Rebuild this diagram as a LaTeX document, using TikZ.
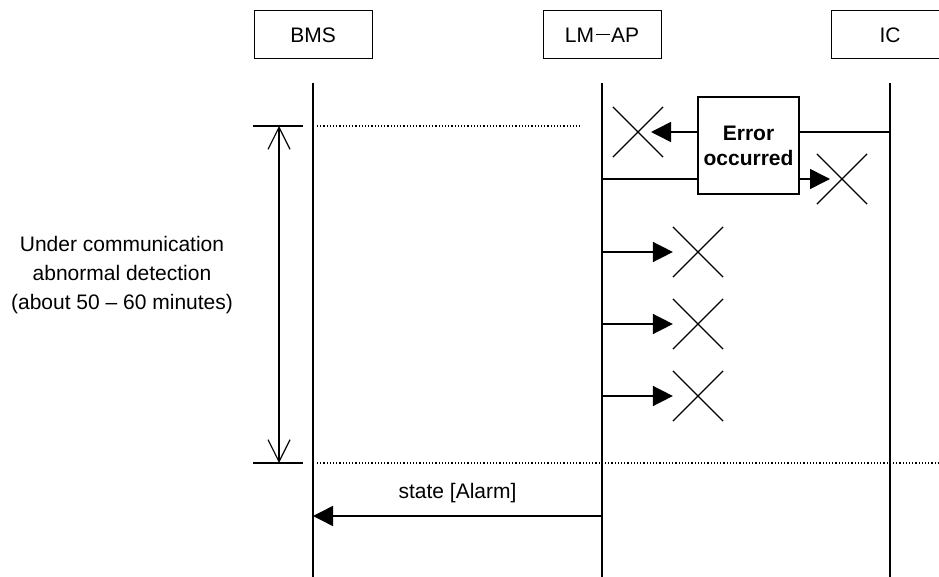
\documentclass[tikz,border=0pt]{standalone}
\usepackage{fontspec}
\setmainfont{Liberation Sans}
\usetikzlibrary{arrows.meta,shapes.misc}
\begin{document}
\begin{tikzpicture}[x=1pt,y=-1pt,
  font=\fontsize{21}{25}\selectfont,
  actor/.style={draw,line width=1pt,minimum width=118pt,minimum height=48pt,inner sep=0pt},
  life/.style={line width=1.5pt},
  msg/.style={line width=1.5pt,-{Triangle[length=20pt,width=20pt]}},
  plainmsg/.style={line width=1.5pt},
  xmark/.style={cross out,draw,line width=1.2pt,minimum size=49pt,inner sep=0pt},
  sep/.style={line width=1.2pt,dotted},
  dur/.style={line width=1.2pt,{Straight Barb[length=22pt,width=22pt]}-{Straight Barb[length=22pt,width=22pt]}},
  tick/.style={line width=1.5pt},
  errbox/.style={draw,line width=2pt,minimum width=101pt,minimum height=97pt,inner sep=0pt,align=center,font=\fontsize{21}{25}\selectfont\bfseries}
]
\useasboundingbox (0,0) rectangle (939,577);
% actors
\node[actor] (bms) at (313,35) {BMS};
\node[actor] (lm) at (602,35) {LM\kern1.5pt\rule[6.8pt]{14pt}{1.4pt}\kern1.5pt AP};
\node[actor] (ic) at (890,35) {IC};
% lifelines
\coordinate (bmsT) at (313,83); \coordinate (bmsB) at (313,577);
\coordinate (lmT) at (602,83);  \coordinate (lmB) at (602,577);
\coordinate (icT) at (890,83);  \coordinate (icB) at (890,577);
\draw[life] (bmsT) -- (bmsB);
\draw[life] (lmT) -- (lmB);
\draw[life] (icT) -- (icB);
% separators
\coordinate (s1a) at (317,126); \coordinate (s1b) at (580,126);
\coordinate (s2a) at (317,463); \coordinate (s2b) at (939,463);
\draw[sep] (s1a) -- (s1b);
\draw[sep] (s2a) -- (s2b);
% duration marker
\coordinate (t1a) at (253,126); \coordinate (t1b) at (303,126);
\coordinate (t2a) at (253,463); \coordinate (t2b) at (303,463);
\coordinate (d1) at (279,126); \coordinate (d2) at (279,463);
\draw[tick] (t1a) -- (t1b);
\draw[tick] (t2a) -- (t2b);
\draw[dur] (d1) -- (d2);
\node[align=center,font=\fontsize{21}{29}\selectfont] (lbl) at (122,275) {Under communication\\abnormal detection\\(about 50 – 60 minutes)};
% error box
\node[errbox] (err) at (748.5,145.5) {Error\\occurred};
\node[xmark] (x1) at (638,132) {};
\node[xmark] (x2) at (842,179) {};
\coordinate (icm1) at (890,132);
\coordinate (lmm2) at (602,179);
\draw[plainmsg] (icm1) -- (err.east |- icm1);
\draw[msg] (err.west |- icm1) -- ([xshift=13pt]x1.center);
\draw[plainmsg] (lmm2) -- (err.west |- lmm2);
\draw[msg] (err.east |- lmm2) -- ([xshift=-12pt]x2.center);
% lost messages
\node[xmark] (x3) at (698,252) {};
\node[xmark] (x4) at (698,324) {};
\node[xmark] (x5) at (698,396) {};
\draw[msg] (lm |- x3) -- (x3.west);
\draw[msg] (lm |- x4) -- (x4.west);
\draw[msg] (lm |- x5) -- (x5.west);
% alarm
\coordinate (alS) at (602,516);
\coordinate (alE) at (313,516);
\draw[msg] (alS) -- (alE) node[midway,above=9pt] (al) {state [Alarm]};
\end{tikzpicture}
\end{document}
